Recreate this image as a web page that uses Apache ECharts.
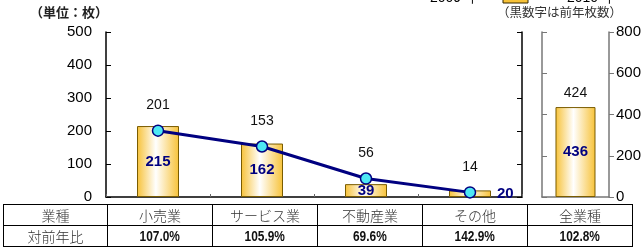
<!DOCTYPE html>
<html>
<head>
<meta charset="utf-8">
<script src="https://cdn.jsdelivr.net/npm/echarts@6/dist/echarts.min.js"></script>
<style>
  html, body { margin: 0; padding: 0; background: #fff; }
  #wrap { position: relative; width: 644px; height: 248px; overflow: hidden; }
  #main { position: absolute; left: 0; top: 0; width: 644px; height: 248px; }
  table.tbl { position: absolute; left: 3px; top: 204px; border-collapse: collapse; }
  table.tbl td { border: 1px solid #000; height: 19px; padding: 0; text-align: center; }
  td.h { font-family: "Noto Sans CJK JP", sans-serif; font-weight: 300; font-size: 14px; color: #333; }
  td.v { font-family: "Liberation Sans Narrow", "Liberation Sans", Arial, sans-serif; font-size: 14px; font-weight: bold; color: #111; }
  td.v span { display: inline-block; transform: scaleX(0.85); }
</style>
</head>
<body>
<div id="wrap">
  <div id="main"></div>
  <table class="tbl" id="tbl"></table>
</div>
<script>
// 業種 (左グラフ)
var categories = ['小売業', 'サービス業', '不動産業', 'その他']
// 今年 (棒) / 前年 (折れ線)
var thisYear = [215, 162, 39, 20]
var lastYear = [201, 153, 56, 14]
// 全業種 (右グラフ)
var totalName = '全業種'
var totalThisYear = 436
var totalLastYear = 424
// 表
var rowHeader = ['業種', '対前年比']
var ratios = ['107.0%', '105.9%', '69.6%', '142.9%', '102.8%']
var leftTicks = [0, 100, 200, 300, 400, 500]
var rightTicks = [0, 200, 400, 600, 800]

// 表をつくる
var tbl = document.getElementById('tbl')
var widths = [103, 104, 104, 104, 104, 104]
var r1 = '<tr>' + [rowHeader[0]].concat(categories, [totalName]).map(function (t, i) {
  return '<td class="h" style="width:' + widths[i] + 'px">' + t + '</td>'
}).join('') + '</tr>'
var r2 = '<tr><td class="h">' + rowHeader[1] + '</td>' + ratios.map(function (t) {
  return '<td class="v"><span>' + t + '</span></td>'
}).join('') + '</tr>'
tbl.innerHTML = r1 + r2

var barColor = {
  type: 'linear', x: 0, y: 0, x2: 1, y2: 0,
  colorStops: [
    { offset: 0, color: '#f7c238' },
    { offset: 0.45, color: '#ffffff' },
    { offset: 1, color: '#f7c238' }
  ]
}
var barBorder = { color: barColor, borderColor: '#7a5c00', borderWidth: 1 }
var barLabel = {
  show: true, position: 'inside', color: '#000080',
  fontFamily: 'Liberation Sans, Arial', fontWeight: 'bold', fontSize: 15
}
var numFont = 'Liberation Sans, Arial'

var myChart = echarts.init(document.getElementById('main'))
myChart.setOption({
  animation: false,
  textStyle: { fontFamily: numFont },
  grid: [
    { left: 106, right: 122, top: 32, bottom: 51 },
    { left: 542, right: 34, top: 32, bottom: 51 }
  ],
  xAxis: [
    {
      type: 'category', gridIndex: 0, data: categories,
      axisLine: { lineStyle: { color: '#000', width: 1.5 } },
      axisTick: { show: true, length: 3, inside: true, lineStyle: { color: '#666' } },
      axisLabel: { show: false }
    },
    {
      type: 'category', gridIndex: 1, data: [totalName],
      axisLine: { lineStyle: { color: '#777', width: 1.5 } },
      axisTick: { show: false },
      axisLabel: { show: false }
    }
  ],
  yAxis: [
    {
      type: 'value', gridIndex: 0, min: leftTicks[0], max: leftTicks[leftTicks.length - 1], interval: 100,
      axisLine: { show: true, lineStyle: { color: '#000', width: 1.5 } },
      axisTick: { show: true, inside: true, length: 5, lineStyle: { color: '#000' } },
      axisLabel: { color: '#000', fontSize: 15, margin: 14 },
      splitLine: { show: false }
    },
    {
      type: 'value', gridIndex: 0, position: 'right', min: 0, max: 500, interval: 100,
      axisLine: { show: true, lineStyle: { color: '#000', width: 1.5 } },
      axisTick: { show: true, inside: true, length: 5, lineStyle: { color: '#000' } },
      axisLabel: { show: false },
      splitLine: { show: false }
    },
    {
      type: 'value', gridIndex: 1, position: 'left', min: 0, max: 800, interval: 200,
      axisLine: { show: true, lineStyle: { color: '#777', width: 1.5 } },
      axisTick: { show: true, inside: true, length: 5, lineStyle: { color: '#777' } },
      axisLabel: { show: false },
      splitLine: { show: false }
    },
    {
      type: 'value', gridIndex: 1, position: 'right', min: rightTicks[0], max: rightTicks[rightTicks.length - 1], interval: 200,
      axisLine: { show: true, lineStyle: { color: '#777', width: 1.5 } },
      axisTick: { show: true, length: 5, lineStyle: { color: '#777' } },
      axisLabel: { color: '#000', fontSize: 15, margin: 7 },
      splitLine: { show: false }
    }
  ],
  series: [
    {
      type: 'bar', xAxisIndex: 0, yAxisIndex: 0, barWidth: 42,
      data: thisYear.map(function (v) {
        return v < 30 ? { value: v, label: { position: 'right', distance: 6 } } : v
      }),
      itemStyle: barBorder,
      label: barLabel
    },
    {
      type: 'line', xAxisIndex: 0, yAxisIndex: 0, data: lastYear,
      lineStyle: { color: '#000080', width: 3 },
      symbol: 'circle', symbolSize: 11,
      itemStyle: { color: '#4ee8f4', borderColor: '#000080', borderWidth: 1.5 },
      label: { show: true, position: 'top', distance: 12, color: '#111', fontSize: 14 },
      z: 3
    },
    {
      type: 'bar', xAxisIndex: 1, yAxisIndex: 3, barWidth: 40,
      data: [totalThisYear],
      itemStyle: barBorder,
      label: barLabel
    },
    {
      type: 'scatter', xAxisIndex: 1, yAxisIndex: 3, data: [totalLastYear],
      symbolSize: 2, itemStyle: { color: 'rgba(0,0,0,0)', opacity: 1 },
      label: { show: true, position: 'top', distance: 8, color: '#111', fontSize: 14 }
    }
  ],
  graphic: [
    { type: 'text', left: 30, top: 6, style: { text: '（単位：枚）', fontSize: 13, fontFamily: 'Noto Sans CJK JP', fontWeight: 'bold', fill: '#222' } },
    { type: 'text', left: 497, top: 6, style: { text: '（黒数字は前年枚数）', fontSize: 12.5, fontFamily: 'Noto Sans CJK JP', fill: '#333' } },
    { type: 'text', x: 430, y: -9, style: { text: '2009 年', fontSize: 14, fontFamily: numFont, fill: '#000' } },
    { type: 'rect', shape: { x: 503, y: -8, width: 25, height: 11 }, style: { fill: '#f7c238', stroke: '#332600' } },
    { type: 'text', x: 567, y: -9, style: { text: '2010 年', fontSize: 14, fontFamily: numFont, fill: '#000' } }
  ]
})
</script>
</body>
</html>
